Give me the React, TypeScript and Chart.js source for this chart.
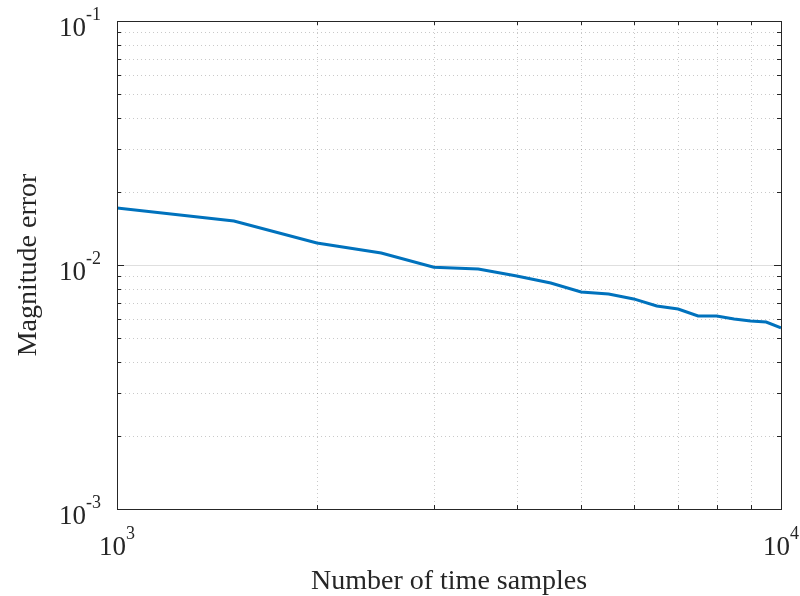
import React, { useEffect, useRef } from "react";
import { Chart, registerables } from "chart.js";

Chart.register(...registerables);

// ---- data ----
const samples = [1000, 1500, 2000, 2500, 3000, 3500, 4000, 4500, 5000, 5500, 6000, 6500, 7000, 7500, 8000, 8500, 9000, 9500, 10000];
const magnitudeError = [0.01714, 0.01514, 0.01231, 0.0112, 0.0098, 0.00963, 0.00902, 0.00844, 0.00775, 0.0076, 0.00726, 0.00679, 0.0066, 0.00618, 0.00618, 0.00601, 0.00589, 0.00584, 0.00552];

const xMajorTicks = [1000, 10000];
const xMajorLabels = ["3", "4"];
const yMajorTicks = [0.001, 0.01, 0.1];
const yMajorLabels = ["-3", "-2", "-1"];
const xTitle = "Number of time samples";
const yTitle = "Magnitude error";

const FONT = "'Liberation Serif', 'Times New Roman', serif";
const AXIS_COLOR = "#262626";

function minorValues(min: number, max: number): number[] {
  const out: number[] = [];
  for (let d = min; d < max; d *= 10) {
    for (let k = 2; k <= 9; k++) out.push(d * k);
  }
  return out;
}

const matlabAxes = {
  id: "matlabAxes",
  beforeDatasetsDraw(chart: any) {
    const { ctx, chartArea: a, scales } = chart;
    const xs = scales.x;
    const ys = scales.y;
    ctx.save();
    // minor dotted grid
    ctx.strokeStyle = "rgba(38,38,38,0.25)";
    ctx.lineWidth = 1;
    ctx.setLineDash([1, 3]);
    for (const v of minorValues(1000, 10000)) {
      const px = Math.round(xs.getPixelForValue(v)) + 0.5;
      ctx.beginPath();
      ctx.moveTo(px, a.top);
      ctx.lineTo(px, a.bottom);
      ctx.stroke();
    }
    for (const v of minorValues(0.001, 0.1)) {
      const py = Math.round(ys.getPixelForValue(v)) + 0.5;
      ctx.beginPath();
      ctx.moveTo(a.left, py);
      ctx.lineTo(a.right, py);
      ctx.stroke();
    }
    // major solid grid
    ctx.setLineDash([]);
    ctx.strokeStyle = "rgba(38,38,38,0.15)";
    for (const v of yMajorTicks) {
      const py = Math.round(ys.getPixelForValue(v)) + 0.5;
      ctx.beginPath();
      ctx.moveTo(a.left, py);
      ctx.lineTo(a.right, py);
      ctx.stroke();
    }
    ctx.restore();
  },
  afterDatasetsDraw(chart: any) {
    const { ctx, chartArea: a, scales } = chart;
    const xs = scales.x;
    const ys = scales.y;
    ctx.save();
    ctx.strokeStyle = AXIS_COLOR;
    ctx.lineWidth = 1;
    ctx.setLineDash([]);
    // box
    ctx.strokeRect(Math.round(a.left) + 0.5, Math.round(a.top) + 0.5, Math.round(a.right - a.left), Math.round(a.bottom - a.top));
    // ticks (inside)
    const tick = (x1: number, y1: number, x2: number, y2: number) => {
      ctx.beginPath();
      ctx.moveTo(x1, y1);
      ctx.lineTo(x2, y2);
      ctx.stroke();
    };
    for (const v of minorValues(1000, 10000)) {
      const px = Math.round(xs.getPixelForValue(v)) + 0.5;
      tick(px, a.bottom, px, a.bottom - 4);
      tick(px, a.top, px, a.top + 4);
    }
    for (const v of minorValues(0.001, 0.1)) {
      const py = Math.round(ys.getPixelForValue(v)) + 0.5;
      tick(a.left, py, a.left + 4, py);
      tick(a.right, py, a.right - 4, py);
    }
    for (const v of yMajorTicks) {
      const py = Math.round(ys.getPixelForValue(v)) + 0.5;
      tick(a.left, py, a.left + 7, py);
      tick(a.right, py, a.right - 7, py);
    }
    // tick labels
    ctx.fillStyle = AXIS_COLOR;
    ctx.textBaseline = "alphabetic";
    const base = "27px " + FONT;
    const sup = "18px " + FONT;
    const measure = (b: string, s: string) => {
      ctx.font = base;
      const wb = ctx.measureText(b).width;
      ctx.font = sup;
      const ws = ctx.measureText(s).width;
      return [wb, ws];
    };
    const drawPow = (x: number, baseY: number, s: string) => {
      const [wb] = measure("10", s);
      ctx.textAlign = "left";
      ctx.font = base;
      ctx.fillText("10", x, baseY);
      ctx.font = sup;
      ctx.fillText(s, x + wb, baseY - 16);
    };
    xMajorTicks.forEach((v, i) => {
      const px = xs.getPixelForValue(v);
      const [wb, ws] = measure("10", xMajorLabels[i]);
      drawPow(px - (wb + ws) / 2, 555, xMajorLabels[i]);
    });
    yMajorTicks.forEach((v, i) => {
      const py = ys.getPixelForValue(v);
      const [wb, ws] = measure("10", yMajorLabels[i]);
      drawPow(a.left - 16 - (wb + ws), py + 15, yMajorLabels[i]);
    });
    // titles
    ctx.font = "28px " + FONT;
    ctx.textAlign = "center";
    ctx.fillText(xTitle, (a.left + a.right) / 2, 589);
    ctx.save();
    ctx.translate(36, (a.top + a.bottom) / 2);
    ctx.rotate(-Math.PI / 2);
    ctx.fillText(yTitle, 0, 0);
    ctx.restore();
    ctx.restore();
  },
};

export default function App() {
  const ref = useRef<HTMLCanvasElement | null>(null);
  useEffect(() => {
    if (!ref.current) return;
    const chart = new Chart(ref.current, {
      type: "line",
      data: {
        datasets: [
          {
            data: samples.map((x, i) => ({ x, y: magnitudeError[i] })),
            borderColor: "#0072BD",
            borderWidth: 3,
            pointRadius: 0,
            tension: 0,
            fill: false,
          },
        ],
      },
      options: {
        animation: false,
        responsive: false,
        events: [],
        layout: { padding: { top: 21, right: 19, left: 0, bottom: 0 } },
        plugins: { legend: { display: false }, tooltip: { enabled: false } },
        scales: {
          x: {
            type: "logarithmic",
            min: 1000,
            max: 10000,
            ticks: { display: false },
            grid: { display: false },
            border: { display: false },
            afterFit: (s: any) => {
              s.height = 87;
            },
          },
          y: {
            type: "logarithmic",
            min: 0.001,
            max: 0.1,
            ticks: { display: false },
            grid: { display: false },
            border: { display: false },
            afterFit: (s: any) => {
              s.width = 117;
            },
          },
        },
      },
      plugins: [matlabAxes],
    });
    return () => chart.destroy();
  }, []);
  return (
    <div style={{ position: "absolute", left: 0, top: 0, width: 800, height: 596, background: "#fff" }}>
      <canvas ref={ref} width={800} height={596} />
    </div>
  );
}
